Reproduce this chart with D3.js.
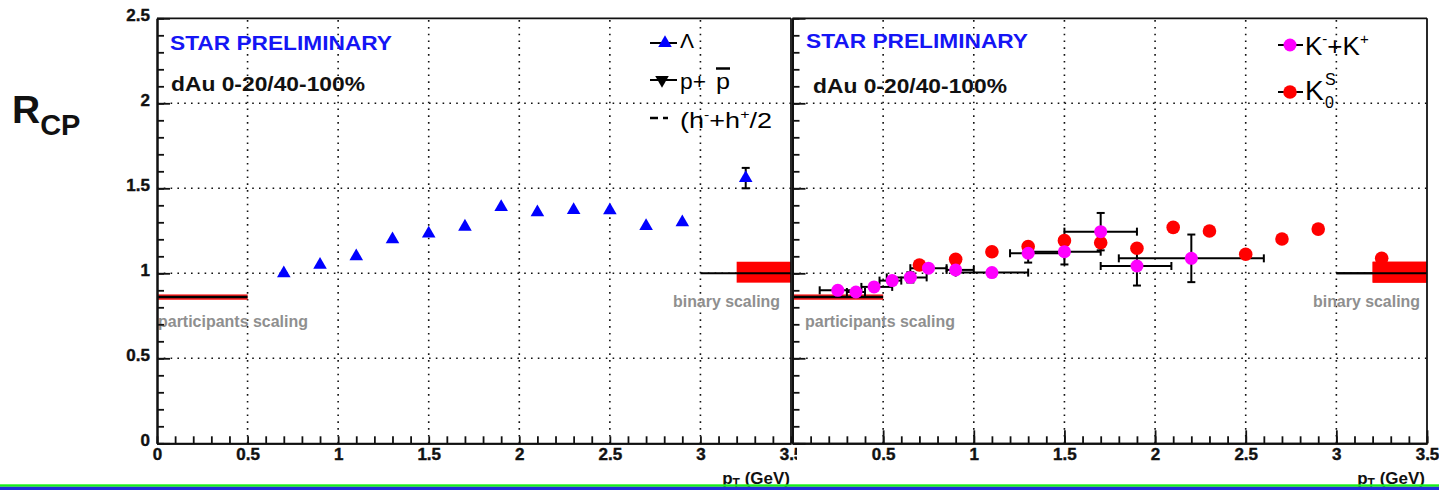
<!DOCTYPE html>
<html><head><meta charset="utf-8">
<script src="https://cdn.jsdelivr.net/npm/d3@7"></script>
<style>body{margin:0;background:#fff}svg{display:block}text{font-family:"Liberation Sans",Arial,Helvetica,sans-serif}</style>
</head><body><svg id="c" width="1439" height="490"></svg>
<script>
// ---- data ----
const xTicksMajor = [0,0.5,1,1.5,2,2.5,3,3.5];
const yTicksMajor = [0,0.5,1,1.5,2,2.5];
const gridX = [0.5,1,1.5,2,2.5,3];
const gridY = [0.5,1,1.5,2];

const lambdaPt  = [0.7,0.9,1.1,1.3,1.5,1.7,1.9,2.1,2.3,2.5,2.7,2.9,3.25];
const lambdaRcp = [1.0,1.05,1.10,1.20,1.233,1.274,1.39,1.359,1.372,1.37,1.278,1.30,1.56];
const lambdaErr = [0.01,0.01,0.01,0.01,0.01,0.01,0.01,0.01,0.01,0.01,0.01,0.01,0.06];

const kchPt   = [0.25,0.35,0.45,0.55,0.65,0.75,0.9,1.1,1.3,1.5,1.7,1.9,2.2];
const kchRcp  = [0.90,0.89,0.92,0.957,0.976,1.03,1.02,1.004,1.118,1.127,1.245,1.043,1.088];
const kchErr  = [0.01,0.02,0.015,0.02,0.03,0.02,0.02,0.02,0.055,0.075,0.11,0.115,0.14];
const kchXlo  = [0.15,0.30,0.38,0.48,0.52,0.65,0.85,0.90,1.20,1.30,1.50,1.70,1.80];
const kchXhi  = [0.35,0.40,0.55,0.60,0.74,0.85,1.00,1.30,1.50,1.70,1.90,2.09,2.60];

const k0sPt  = [0.7,0.9,1.1,1.3,1.5,1.7,1.9,2.1,2.3,2.5,2.7,2.9,3.25];
const k0sRcp = [1.049,1.082,1.127,1.157,1.192,1.18,1.147,1.27,1.249,1.112,1.202,1.26,1.088];
const k0sErr = [0.01,0.02,0.01,0.01,0.02,0.02,0.01,0.01,0.01,0.01,0.01,0.01,0.01];

const participants = {x0:0, x1:0.5, v:0.86, band:0.016};
const binary = {xLine:3.0, xBox:3.2, x1:3.5, v:1.0, lo:0.945, hi:1.068};

const titleText = "STAR PRELIMINARY";
const sysText = "dAu 0-20/40-100%";

// ---- scales ----
const svg = d3.select("#c");
const xL = d3.scaleLinear().domain([0,3.5]).range([157,791]);
const xR = d3.scaleLinear().domain([0,3.5]).range([792.5,1427]);
const y  = d3.scaleLinear().domain([0,2.5]).range([443.3,18.3]);
const fmt = d => d3.format("~g")(d);

function panel(x, opts){
  const g = svg.append("g");
  g.selectAll(".gx").data(gridX).join("line")
    .attr("x1",d=>x(d)).attr("x2",d=>x(d)).attr("y1",y(0)).attr("y2",y(2.5))
    .attr("stroke","#111").attr("stroke-width",1.6).attr("stroke-dasharray","1.6,5.2");
  g.selectAll(".gy").data(gridY).join("line")
    .attr("x1",x(0)).attr("x2",x(3.5)).attr("y1",d=>y(d)).attr("y2",d=>y(d))
    .attr("stroke","#111").attr("stroke-width",1.6).attr("stroke-dasharray","1.6,5.2");
  g.append("rect").attr("x",x(participants.x0)).attr("width",x(participants.x1)-x(participants.x0))
    .attr("y",y(participants.v+participants.band)).attr("height",y(participants.v-participants.band)-y(participants.v+participants.band))
    .attr("fill","#ff2020");
  g.append("line").attr("x1",x(participants.x0)).attr("x2",x(participants.x1))
    .attr("y1",y(participants.v)).attr("y2",y(participants.v)).attr("stroke","#000").attr("stroke-width",2.5);
  g.append("rect").attr("x",x(binary.xBox)).attr("width",x(binary.x1)-x(binary.xBox))
    .attr("y",y(binary.hi)).attr("height",y(binary.lo)-y(binary.hi)).attr("fill","#ff0000");
  g.append("line").attr("x1",x(binary.xLine)).attr("x2",x(binary.x1))
    .attr("y1",y(binary.v)).attr("y2",y(binary.v)).attr("stroke","#000").attr("stroke-width",2);
  g.append("text").attr("x",opts.partX).attr("y",327).attr("font-size",16).attr("font-weight","bold")
    .attr("fill","#8f8f8f").attr("textLength",150).attr("lengthAdjust","spacingAndGlyphs").text("participants scaling");
  g.append("text").attr("x",opts.binX).attr("y",307).attr("font-size",16).attr("font-weight","bold")
    .attr("fill","#8f8f8f").attr("textLength",107).attr("lengthAdjust","spacingAndGlyphs").text("binary scaling");
  g.append("text").attr("x",opts.starX).attr("y",opts.starY).attr("font-size",21).attr("font-weight","bold")
    .attr("fill","#1515f5").attr("textLength",222).attr("lengthAdjust","spacingAndGlyphs").text(titleText);
  g.append("text").attr("x",opts.sysX).attr("y",opts.sysY).attr("font-size",21).attr("font-weight","bold")
    .attr("fill","#111").attr("textLength",194).attr("lengthAdjust","spacingAndGlyphs").text(sysText);
  return g;
}

function errBars(g, x, pts, vals, errs, xlo, xhi){
  const cap=4;
  pts.forEach((p,i)=>{
    const cx=x(p), cy=y(vals[i]);
    if(xlo){
      const a=x(xlo[i]), b=x(xhi[i]);
      g.append("line").attr("x1",a).attr("x2",b).attr("y1",cy).attr("y2",cy).attr("stroke","#000").attr("stroke-width",2);
      g.append("line").attr("x1",a).attr("x2",a).attr("y1",cy-cap).attr("y2",cy+cap).attr("stroke","#000").attr("stroke-width",2);
      g.append("line").attr("x1",b).attr("x2",b).attr("y1",cy-cap).attr("y2",cy+cap).attr("stroke","#000").attr("stroke-width",2);
    }
    const t=y(vals[i]+errs[i]), bt=y(vals[i]-errs[i]);
    if(bt-t>9){
      g.append("line").attr("x1",cx).attr("x2",cx).attr("y1",t).attr("y2",bt).attr("stroke","#000").attr("stroke-width",2);
      g.append("line").attr("x1",cx-cap).attr("x2",cx+cap).attr("y1",t).attr("y2",t).attr("stroke","#000").attr("stroke-width",2);
      g.append("line").attr("x1",cx-cap).attr("x2",cx+cap).attr("y1",bt).attr("y2",bt).attr("stroke","#000").attr("stroke-width",2);
    }
  });
}

// ---- left panel ----
const gL = panel(xL,{partX:158,binX:673,starX:170,starY:50,sysX:171,sysY:91});
errBars(gL,xL,lambdaPt,lambdaRcp,lambdaErr,null,null);
const tri = d3.symbol().type(d3.symbolTriangle).size(80);
gL.selectAll(".lam").data(lambdaPt).join("path")
  .attr("d",tri).attr("transform",(d,i)=>`translate(${xL(d)},${y(lambdaRcp[i])})`).attr("fill","#0000ff");

// left legend
gL.append("line").attr("x1",650).attr("x2",677).attr("y1",43).attr("y2",43).attr("stroke","#000").attr("stroke-width",2);
gL.append("path").attr("d",tri).attr("transform","translate(665,43)").attr("fill","#0000ff");
gL.append("text").attr("x",680).attr("y",48).attr("font-size",21).text("Λ");
gL.append("line").attr("x1",650).attr("x2",677).attr("y1",80).attr("y2",80).attr("stroke","#000").attr("stroke-width",2);
gL.append("path").attr("d",tri).attr("transform","translate(662,80) rotate(180)").attr("fill","#000");
gL.append("text").attr("x",680).attr("y",89).attr("font-size",22).attr("textLength",26).attr("lengthAdjust","spacingAndGlyphs").text("p+");
gL.append("text").attr("x",716).attr("y",89).attr("font-size",22).attr("textLength",14).attr("lengthAdjust","spacingAndGlyphs").text("p");
gL.append("line").attr("x1",716).attr("x2",730).attr("y1",68.5).attr("y2",68.5).attr("stroke","#000").attr("stroke-width",2.5);
gL.append("line").attr("x1",650).attr("x2",658).attr("y1",118).attr("y2",118).attr("stroke","#000").attr("stroke-width",2.5);
gL.append("line").attr("x1",663).attr("x2",668).attr("y1",118).attr("y2",118).attr("stroke","#000").attr("stroke-width",2.5);
const hl = gL.append("text").attr("x",680).attr("y",128).attr("font-size",22).attr("textLength",92).attr("lengthAdjust","spacingAndGlyphs");
hl.append("tspan").text("(h");
hl.append("tspan").attr("font-size",13).attr("dy",-9).text("-");
hl.append("tspan").attr("dy",9).text("+h");
hl.append("tspan").attr("font-size",13).attr("dy",-9).text("+");
hl.append("tspan").attr("dy",9).text("/2");

// axes
const xMinor = d3.range(0,35.5,1).map(d=>d/10);
const yMinor = d3.range(0,25.5,1).map(d=>d/10);
function axes(g, x, withYLabels, clipId){
  const gxm = g.append("g").attr("transform",`translate(0,${y(0)})`)
    .call(d3.axisBottom(x).tickValues(xMinor).tickSize(-7).tickSizeOuter(0).tickFormat(""));
  const gx = g.append("g").attr("transform",`translate(0,${y(0)})`)
    .call(d3.axisBottom(x).tickValues(xTicksMajor).tickSize(-13).tickSizeOuter(0).tickPadding(5).tickFormat(d=>(!withYLabels && d===0)?"":fmt(d)));
  const gym = g.append("g").attr("transform",`translate(${x(0)},0)`)
    .call(d3.axisRight(y).tickValues(yMinor).tickSize(7).tickSizeOuter(0).tickFormat(""));
  const gy = g.append("g").attr("transform",`translate(${x(0)},0)`)
    .call(d3.axisRight(y).tickValues(yTicksMajor).tickSize(13).tickSizeOuter(0).tickFormat(""));
  [gxm,gx,gym,gy].forEach(a=>{a.selectAll("line").attr("stroke","#111").attr("stroke-width",1.8);a.select(".domain").attr("stroke","#111").attr("stroke-width",2);});
  gx.selectAll("text").attr("font-size",17).attr("font-weight","bold").attr("fill","#111").attr("font-family","Liberation Sans, Arial")
    .attr("stroke","#111").attr("stroke-width",0.4);
  if(clipId) gx.attr("clip-path",`url(#${clipId})`);
  g.append("line").attr("x1",x(0)).attr("x2",x(3.5)).attr("y1",y(2.5)).attr("y2",y(2.5)).attr("stroke","#111").attr("stroke-width",1.8);
  g.append("line").attr("x1",x(3.5)).attr("x2",x(3.5)).attr("y1",y(2.5)).attr("y2",y(0)).attr("stroke","#111").attr("stroke-width",1.8);
  if(withYLabels){
    g.append("g").selectAll("text").data(yTicksMajor).join("text")
      .attr("x",x(0)-7).attr("y",d=>y(d)+3).attr("text-anchor","end")
      .attr("font-size",17).attr("font-weight","bold").attr("fill","#111")
      .attr("stroke","#111").attr("stroke-width",0.4).text(fmt);
  }
}
svg.append("defs").append("clipPath").attr("id","clipL").append("rect").attr("x",0).attr("y",0).attr("width",797).attr("height",490);
axes(svg.append("g"),xL,true,"clipL");

// ---- right panel ----
const gR = panel(xR,{partX:805,binX:1313,starX:806,starY:48,sysX:813,sysY:93});
errBars(gR,xR,kchPt,kchRcp,kchErr,kchXlo,kchXhi);
errBars(gR,xR,k0sPt,k0sRcp,k0sErr,null,null);
gR.selectAll(".k0").data(k0sPt).join("circle")
  .attr("cx",d=>xR(d)).attr("cy",(d,i)=>y(k0sRcp[i])).attr("r",6.8).attr("fill","#ff0000");
gR.selectAll(".kc").data(kchPt).join("circle")
  .attr("cx",d=>xR(d)).attr("cy",(d,i)=>y(kchRcp[i])).attr("r",6.5).attr("fill","#ff00ff");
gR.append("rect").attr("x",xR(binary.xBox)).attr("width",xR(binary.x1)-xR(binary.xBox))
  .attr("y",y(binary.hi)).attr("height",y(binary.lo)-y(binary.hi)).attr("fill","#ff0000");
gR.append("line").attr("x1",xR(binary.xLine)).attr("x2",xR(binary.x1))
  .attr("y1",y(binary.v)).attr("y2",y(binary.v)).attr("stroke","#000").attr("stroke-width",2);

// right legend
gR.append("line").attr("x1",1278).attr("x2",1303).attr("y1",45).attr("y2",45).attr("stroke","#000").attr("stroke-width",2);
gR.append("circle").attr("cx",1290).attr("cy",45).attr("r",6.5).attr("fill","#ff00ff");
const kl = gR.append("text").attr("x",1305).attr("y",55).attr("font-size",26);
kl.append("tspan").text("K");
kl.append("tspan").attr("font-size",15).attr("dy",-11).text("-");
kl.append("tspan").attr("dy",11).text("+K");
kl.append("tspan").attr("font-size",15).attr("dy",-11).text("+");
gR.append("line").attr("x1",1278).attr("x2",1303).attr("y1",92).attr("y2",92).attr("stroke","#000").attr("stroke-width",2);
gR.append("circle").attr("cx",1290).attr("cy",92).attr("r",6.8).attr("fill","#ff0000");
gR.append("text").attr("x",1305).attr("y",100).attr("font-size",28).text("K");
gR.append("text").attr("x",1325).attr("y",108).attr("font-size",16).text("0");
gR.append("text").attr("x",1325).attr("y",85).attr("font-size",16).text("S");

axes(svg.append("g"),xR,false,null);

// axis titles
function xTitle(xr){
  const t = svg.append("text").attr("x",xr).attr("y",484).attr("text-anchor","end")
    .attr("font-size",17).attr("font-weight","bold").attr("fill","#111");
  t.append("tspan").text("p");
  t.append("tspan").attr("font-size",12).attr("dy",3).text("T");
  t.append("tspan").attr("dy",-3).text(" (GeV)");
}
xTitle(790); xTitle(1425);

// R_CP
const rt = svg.append("text").attr("x",12).attr("y",123).attr("font-weight","bold").attr("fill","#111");
rt.append("tspan").attr("font-size",39).text("R");
rt.append("tspan").attr("font-size",29).attr("dy",12).text("CP");

// bottom rules
svg.append("rect").attr("x",0).attr("y",484.3).attr("width",1439).attr("height",2.5).attr("fill","#19f019");
svg.append("rect").attr("x",0).attr("y",486.8).attr("width",1439).attr("height",3.2).attr("fill","#2030d8");
</script></body></html>
